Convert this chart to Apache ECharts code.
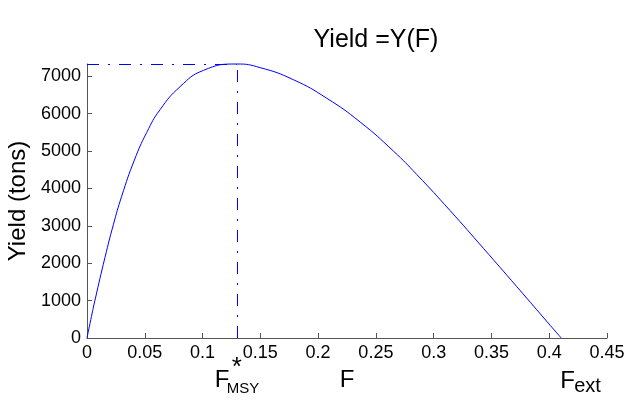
<!DOCTYPE html>
<html>
<head>
<meta charset="utf-8">
<script src="https://cdn.jsdelivr.net/npm/echarts@6/dist/echarts.min.js"></script>
<style>
html,body{margin:0;padding:0;background:#fff;}
#c{width:632px;height:402px;}
</style>
</head>
<body>
<div id="c"></div>
<script>
// Fishing mortality F and yield (tons)
var fValues = [0, 0.0026, 0.0069, 0.0156, 0.0228, 0.030, 0.041, 0.0517, 0.0632, 0.0805, 0.1007, 0.1296, 0.1498, 0.1786, 0.2075, 0.2364, 0.2652, 0.2854, 0.3143, 0.3431, 0.372, 0.4009, 0.4104];
var yieldValues = [0, 390, 1010, 2160, 3030, 3790, 4760, 5500, 6108, 6722, 7160, 7331, 7234, 6911, 6414, 5778, 5000, 4374, 3406, 2398, 1372, 337, 0];
var F_MSY = 0.1296;
var F_EXT = 0.4104;
var Y_MAX = 7331;
var xTicks = [0, 0.05, 0.1, 0.15, 0.2, 0.25, 0.3, 0.35, 0.4, 0.45];
var yTicks = [0, 1000, 2000, 3000, 4000, 5000, 6000, 7000];

var FONT = "'Liberation Sans', Arial, sans-serif";
var chart = echarts.init(document.getElementById('c'), null, {renderer: 'canvas'});

var curve = fValues.map(function (f, i) { return [f, yieldValues[i]]; });
var dashStyle = {color: '#0000ff', width: 1, type: [12, 9, 2, 9]};

chart.setOption({
  animation: false,
  backgroundColor: '#ffffff',
  title: {
    text: 'Yield =Y(F)',
    left: 371, top: 23, textAlign: 'center',
    textStyle: {fontFamily: FONT, fontSize: 25, fontWeight: 'normal', color: '#000'}
  },
  grid: {left: 87, right: 25, top: 64, bottom: 64, containLabel: false, outerBoundsMode: 'none'},
  xAxis: {
    type: 'value', min: 0, max: 0.45, interval: 0.05,
    name: 'F', nameLocation: 'middle', nameGap: 30,
    nameTextStyle: {fontFamily: FONT, fontSize: 24, color: '#000'},
    axisLine: {show: true, lineStyle: {color: '#555', width: 1}},
    axisTick: {show: true, inside: true, length: 5, lineStyle: {color: '#555'}, customValues: xTicks},
    axisLabel: {fontFamily: FONT, fontSize: 18, color: '#000', margin: 6, customValues: xTicks,
      formatter: function (v) { return String(parseFloat(Number(v).toFixed(2))); }},
    splitLine: {show: false}
  },
  yAxis: {
    type: 'value', min: 0, max: Y_MAX,
    name: 'Yield (tons)', nameLocation: 'middle', nameGap: 56, nameRotate: 90,
    nameTextStyle: {fontFamily: FONT, fontSize: 24, color: '#000'},
    axisLine: {show: true, lineStyle: {color: '#555', width: 1}},
    axisTick: {show: true, inside: true, length: 5, lineStyle: {color: '#555'}, customValues: yTicks},
    axisLabel: {fontFamily: FONT, fontSize: 18, color: '#000', margin: 6, customValues: yTicks,
      formatter: function (v) { return String(Math.round(v)); }},
    splitLine: {show: false}
  },
  series: [{
    type: 'line',
    data: curve,
    showSymbol: false,
    smooth: 0.5,
    clip: false,
    lineStyle: {color: '#0000ff', width: 1},
    markLine: {
      silent: true,
      symbol: ['none', 'none'],
      label: {show: false},
      lineStyle: dashStyle,
      data: [
        [{coord: [0, Y_MAX]}, {coord: [F_MSY, Y_MAX]}],
        [{coord: [F_MSY, 0]}, {coord: [F_MSY, Y_MAX]}]
      ]
    }
  }]
});

var pMsy = chart.convertToPixel({gridIndex: 0}, [F_MSY, 0]);
var pExt = chart.convertToPixel({gridIndex: 0}, [F_EXT, 0]);
var txt = function (x, y, s, size) {
  return {type: 'text', x: x, y: y, style: {text: s, fontFamily: FONT, fontSize: size, fill: '#000', textVerticalAlign: 'top'}};
};
chart.setOption({
  graphic: [
    txt(pMsy[0] - 22, pMsy[1] + 30, 'F', 24),
    txt(pMsy[0] - 5, pMsy[1] + 17, '*', 26),
    txt(pMsy[0] - 10, pMsy[1] + 43, 'MSY', 15),
    txt(pExt[0] - 1, pExt[1] + 31, 'F', 24),
    txt(pExt[0] + 13, pExt[1] + 38, 'ext', 20)
  ]
});
</script>
</body>
</html>
